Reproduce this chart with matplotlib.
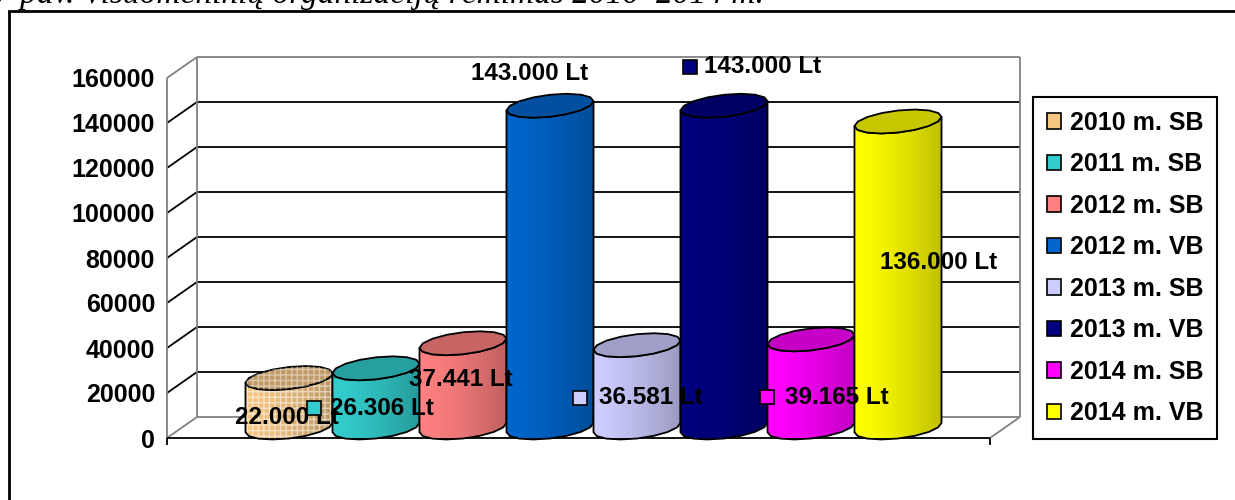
import numpy as np
import matplotlib.pyplot as plt
from matplotlib.patches import Polygon, Patch, Rectangle
from matplotlib.colors import to_rgb

# Duomenys
series = ['2010 m. SB', '2011 m. SB', '2012 m. SB', '2012 m. VB',
          '2013 m. SB', '2013 m. VB', '2014 m. SB', '2014 m. VB']
values = [22000, 26306, 37441, 143000, 36581, 143000, 39165, 136000]
colors = ['#F6C683', '#33CCCC', '#FF8080', '#0066CC',
          '#CCCCFF', '#000080', '#FF00FF', '#FFFF00']
y_ticks = list(range(0, 160001, 20000))

# Etikečių vietos (poslinkis nuo stulpelio centro, aukštis duomenų vienetais)
label_dx = [-0.03, 0.07, -0.02, -0.24, 0.16, 0.44, 0.30, 0.47]
label_y = [8900, 13300, 25800, 162200, 17800, 164900, 18200, 78200]
key_dx = [None, -0.71, None, None, -0.66, -0.39, -0.51, None]

plt.rcParams['font.family'] = ['Liberation Sans', 'DejaVu Sans']
plt.rcParams['font.weight'] = 'bold'

W, H = 1235, 500
fig = plt.figure(figsize=(W / 100, H / 100), dpi=100)
ax = fig.add_axes([167 / W, (H - 438) / H, (990 - 167) / W, (438 - 78) / H])

n = len(values)
half = n / 2 + 0.73
x0, x1 = -half, half
ax.set_xlim(x0, x1)
ax.set_ylim(y_ticks[0], y_ticks[-1])

# 3D dėžės gylis duomenų vienetais
px_x = ax.bbox.width / (x1 - x0)
px_y = ax.bbox.height / (y_ticks[-1] - y_ticks[0])
dxf, dyf = 30 / px_x, 21 / px_y

GRAY = '#808080'


def line(xs, ys, color='black', lw=1.3):
    ax.plot(xs, ys, color=color, lw=lw, clip_on=False, zorder=1, solid_capstyle='butt')


# sienos ir tinklelis
for t in y_ticks:
    c = GRAY if t in (y_ticks[0], y_ticks[-1]) else 'black'
    line([x0 + dxf, x1 + dxf], [t + dyf, t + dyf], c)
    line([x0, x0 + dxf], [t, t + dyf], c)
line([x0, x0], [y_ticks[0], y_ticks[-1]], GRAY)
line([x0 + dxf, x0 + dxf], [dyf, y_ticks[-1] + dyf], GRAY)
line([x1 + dxf, x1 + dxf], [dyf, y_ticks[-1] + dyf], GRAY)
line([x1, x1 + dxf], [0, dyf], GRAY)
line([x0, x1], [0, 0], 'black')
for x in (x0, x1):
    line([x, x], [0, -7 / px_y], 'black')


def cylinder(cx, value, color, z, hatch=False):
    a = 0.46
    b, c = 0.57 * dxf, 0.57 * dyf
    base = 0.5 * dyf
    cx = cx + 0.5 * dxf
    top = value + base
    t0 = np.arctan2(b, a)
    R = np.hypot(a, b)

    def ex(t):
        return cx + a * np.cos(t) + b * np.sin(t)

    def ey(t):
        return c * np.sin(t)

    tf = np.linspace(t0 + np.pi, t0 + 2 * np.pi, 9)
    body_xy = np.vstack([np.column_stack([ex(tf), base + ey(tf)]),
                         np.column_stack([ex(tf[::-1]), top + ey(tf[::-1])])])
    body = Polygon(body_xy, closed=True, fc='none', ec='black', lw=1.3,
                   zorder=z + 0.02, clip_on=False)
    ax.add_patch(body)

    # šešėliavimas: kairė šviesesnė, dešinė tamsesnė
    rgb = np.array(to_rgb(color))
    s = np.linspace(0, 1, 18)
    shade = 1 - 0.24 * s ** 1.4
    img = (rgb[None, :] * shade[:, None])[None, :, :]
    im = ax.imshow(img, extent=[cx - R, cx + R, base - c, top + c], aspect='auto',
                   interpolation='nearest', origin='lower', zorder=z)
    im.set_clip_path(body)

    if hatch:
        ax.add_patch(Polygon(body_xy, closed=True, fill=False, hatch='+++',
                             ec=(1, 1, 1, 0.55), lw=0, zorder=z + 0.01, clip_on=False))

    tt = np.linspace(0, 2 * np.pi, 17)
    top_xy = np.column_stack([ex(tt), top + ey(tt)])
    ax.add_patch(Polygon(top_xy, closed=True, fc=rgb * 0.78, ec='black', lw=1.3,
                         zorder=z + 0.03, clip_on=False))
    if hatch:
        ax.add_patch(Polygon(top_xy, closed=True, fill=False, hatch='+++',
                             ec=(1, 1, 1, 0.45), lw=0, zorder=z + 0.04, clip_on=False))


for i, (v, col) in enumerate(zip(values, colors)):
    bx = i - (n - 1) / 2
    cylinder(bx, v, col, 3 + i * 0.1, hatch=(i == 0))

# duomenų etiketės
for i, (v, col) in enumerate(zip(values, colors)):
    bx = i - (n - 1) / 2 + 0.5 * dxf
    txt = f'{v:,}'.replace(',', '.') + ' Lt'
    ax.text(bx + label_dx[i], label_y[i], txt, ha='center', va='center',
            fontsize=17.5, fontweight='bold', zorder=20, clip_on=False)
    if key_dx[i] is not None:
        ax.plot(bx + key_dx[i], label_y[i], marker='s', ms=10, mfc=col, mec='black',
                mew=1.2, zorder=20, clip_on=False)

ax.set_yticks(y_ticks)
ax.set_yticklabels([str(t) for t in y_ticks], fontsize=18, fontweight='bold')
ax.tick_params(axis='y', length=0, pad=8.6)
ax.set_xticks([])
for sp in ax.spines.values():
    sp.set_visible(False)
ax.patch.set_visible(False)

handles = [Patch(fc=c, ec='black', lw=1.2) for c in colors]
leg = fig.legend(handles, series, loc='upper left', bbox_to_anchor=(1033 / W, 1 - 97 / H),
                 prop=dict(family='Liberation Sans', weight='bold', size=18),
                 frameon=True, fancybox=False, edgecolor='black', framealpha=1,
                 borderpad=0.55, labelspacing=0.7, handlelength=0.56, handleheight=0.56,
                 handletextpad=0.35, borderaxespad=0)
leg.get_frame().set_linewidth(1.5)

# rėmelis ir antraštė (nukirsta viršuje)
fig.add_artist(Rectangle((9 / W, -0.2), 1.1, 1.2 - 11 / H, transform=fig.transFigure,
                         fill=False, ec='black', lw=2))
fig.text(-0.004, 1 - 3 / H, '7 pav. Visuomeninių organizacijų rėmimas 2010–2014 m.',
         family='Liberation Serif', style='italic', weight='normal', size=24,
         va='baseline', ha='left')

fig.savefig('out.png', dpi=100)
